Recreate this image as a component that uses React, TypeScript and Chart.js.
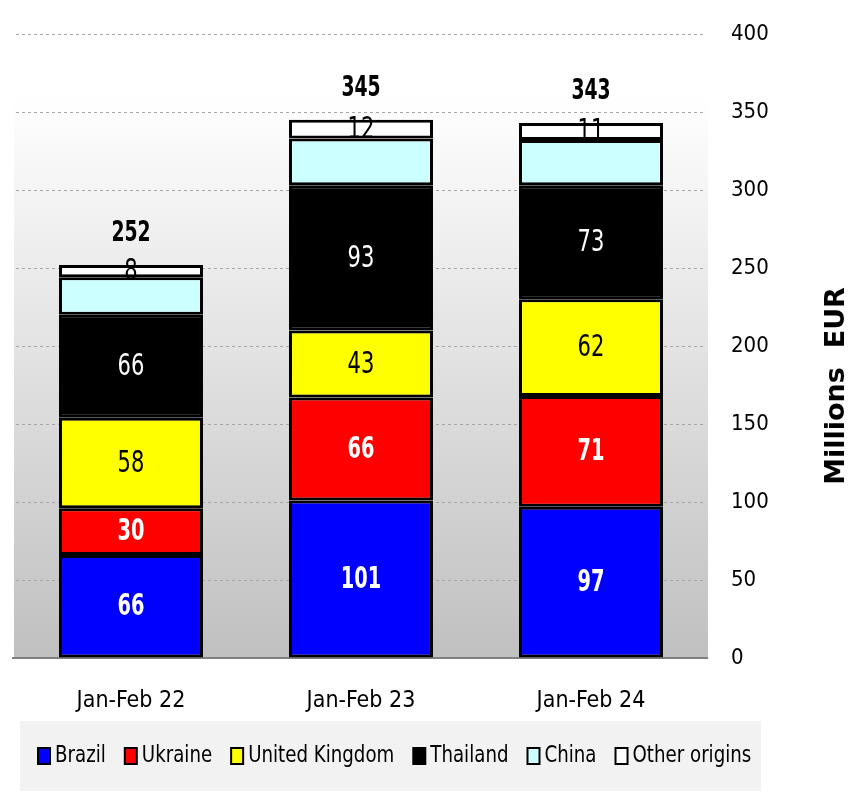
import React, { useEffect, useRef } from "react";
import { Chart, registerables } from "chart.js";

Chart.register(...registerables);

const categories = ["Jan-Feb 22", "Jan-Feb 23", "Jan-Feb 24"];
const brazil = [66, 101, 97];
const ukraine = [30, 66, 71];
const unitedKingdom = [58, 43, 62];
const thailand = [66, 93, 73];
const china = [24, 30, 29];
const otherOrigins = [8, 12, 11];
const yTicks = [0, 50, 100, 150, 200, 250, 300, 350, 400];

const FONT = '"DejaVu Sans Condensed", "DejaVu Sans", sans-serif';

type SeriesStyle = {
  label: string;
  data: number[];
  color: string;
  textColor: string;
  bold: boolean;
  showLabel: boolean;
};

const series: SeriesStyle[] = [
  { label: "Brazil", data: brazil, color: "#0000ff", textColor: "#ffffff", bold: true, showLabel: true },
  { label: "Ukraine", data: ukraine, color: "#ff0000", textColor: "#ffffff", bold: true, showLabel: true },
  { label: "United Kingdom", data: unitedKingdom, color: "#ffff00", textColor: "#000000", bold: false, showLabel: true },
  { label: "Thailand", data: thailand, color: "#000000", textColor: "#ffffff", bold: false, showLabel: true },
  { label: "China", data: china, color: "#ccffff", textColor: "#000000", bold: false, showLabel: false },
  { label: "Other origins", data: otherOrigins, color: "#ffffff", textColor: "#000000", bold: false, showLabel: true },
];

function condensedText(ctx: CanvasRenderingContext2D, text: string, x: number, y: number, sx: number) {
  ctx.save();
  ctx.translate(x, y);
  ctx.scale(sx, 1);
  ctx.fillText(text, 0, 0);
  ctx.restore();
}

const backgroundPlugin = {
  id: "bgPlugin",
  beforeDraw(chart: any) {
    const { ctx, chartArea } = chart;
    ctx.save();
    ctx.fillStyle = "#ffffff";
    ctx.fillRect(0, 0, chart.width, chart.height);
    const gTop = chartArea.top + 61;
    const grad = ctx.createLinearGradient(0, gTop, 0, chartArea.bottom);
    grad.addColorStop(0, "#ffffff");
    grad.addColorStop(1, "#c0c0c0");
    ctx.fillStyle = grad;
    ctx.fillRect(chartArea.left - 2, gTop, chartArea.right - chartArea.left + 4, chartArea.bottom - gTop);
    ctx.restore();
  },
  beforeDatasetsDraw(chart: any) {
    const { ctx, chartArea } = chart;
    ctx.save();
    ctx.strokeStyle = "#808080";
    ctx.lineWidth = 2;
    ctx.beginPath();
    ctx.moveTo(chartArea.left - 4, chartArea.bottom);
    ctx.lineTo(chartArea.right + 2, chartArea.bottom);
    ctx.stroke();
    ctx.restore();
  },
};

const labelsPlugin = {
  id: "labelsPlugin",
  afterDatasetsDraw(chart: any) {
    const { ctx } = chart;
    ctx.save();
    ctx.textAlign = "center";
    ctx.textBaseline = "middle";
    series.forEach((s, di) => {
      if (!s.showLabel) return;
      const meta = chart.getDatasetMeta(di);
      meta.data.forEach((el: any, i: number) => {
        const { x, y, base } = el.getProps(["x", "y", "base"], true);
        ctx.fillStyle = s.textColor;
        ctx.font = `${s.bold ? "bold " : ""}30px ${FONT}`;
        condensedText(ctx, String(s.data[i]), x, (y + base) / 2 + 1, s.bold ? 0.72 : 0.78);
      });
    });
    // totals
    const lastMeta = chart.getDatasetMeta(series.length - 1);
    ctx.fillStyle = "#000000";
    ctx.font = `bold 29px ${FONT}`;
    categories.forEach((_, i) => {
      const total = series.reduce((acc, s) => acc + s.data[i], 0);
      const el = lastMeta.data[i];
      const { x, y } = el.getProps(["x", "y"], true);
      condensedText(ctx, String(total), x, y - 31, 0.72);
    });

    // axis title
    ctx.save();
    ctx.translate(837, 386);
    ctx.rotate(-Math.PI / 2);
    ctx.font = 'bold 27px "DejaVu Sans", sans-serif';
    ctx.fillStyle = "#000000";
    ctx.fillText("Millions  EUR", 0, 0);
    ctx.restore();

    // legend
    const lx = 20, ly = 721, lw = 741, lh = 70;
    ctx.fillStyle = "#f2f2f2";
    ctx.fillRect(lx, ly, lw, lh);
    ctx.font = `23px ${FONT}`;
    ctx.textAlign = "left";
    ctx.textBaseline = "middle";
    const sx = 0.88;
    let cx = 37;
    const cy = 756;
    series.forEach((s) => {
      ctx.fillStyle = s.color;
      ctx.fillRect(cx + 1, cy - 8, 12, 16);
      ctx.strokeStyle = "#000000";
      ctx.lineWidth = 2;
      ctx.strokeRect(cx + 1, cy - 8, 12, 16);
      ctx.fillStyle = "#000000";
      condensedText(ctx, s.label, cx + 18, cy, sx);
      cx += 18 + ctx.measureText(s.label).width * sx + 18;
    });
    ctx.restore();
  },
};

export default function App() {
  const ref = useRef<HTMLCanvasElement | null>(null);
  useEffect(() => {
    if (!ref.current) return;
    const chart = new Chart(ref.current, {
      type: "bar",
      data: {
        labels: categories,
        datasets: series.map((s) => ({
          label: s.label,
          data: s.data,
          backgroundColor: s.color,
          borderColor: "#000000",
          borderWidth: 3,
          borderSkipped: false,
          categoryPercentage: 1,
          barPercentage: 0.626,
        })),
      },
      options: {
        animation: false,
        responsive: false,
        devicePixelRatio: 1,
        layout: { padding: { left: 16, top: 34, right: 0, bottom: 0 } },
        plugins: {
          legend: { display: false },
          tooltip: { enabled: false },
          title: { display: false },
        },
        scales: {
          x: {
            stacked: true,
            grid: { display: false, drawTicks: false },
            border: { display: false },
            ticks: {
              color: "#000000",
              font: { family: FONT, size: 23 },
              padding: 29,
            },
            afterFit(scale: any) {
              scale.height = 143;
              scale.paddingLeft = 0;
              scale.paddingRight = 0;
            },
          },
          y: {
            stacked: true,
            position: "right",
            min: 0,
            max: 400,
            afterBuildTicks(scale: any) {
              scale.ticks = yTicks.map((v) => ({ value: v }));
            },
            grid: {
              drawTicks: false,
              color: (c: any) => (c.tick && c.tick.value === 0 ? "rgba(0,0,0,0)" : "#a6a6a6"),
              lineWidth: 1,
            },
            border: { display: false, dash: [3, 3] },
            ticks: {
              color: "#000000",
              font: { family: FONT, size: 22 },
              padding: 25,
              align: "center",
              crossAlign: "near",
            },
            afterFit(scale: any) {
              scale.width = 144;
              scale.paddingTop = 0;
              scale.paddingBottom = 0;
            },
          },
        },
      },
      plugins: [backgroundPlugin, labelsPlugin],
    } as any);
    return () => chart.destroy();
  }, []);
  return (
    <div style={{ position: "fixed", left: 0, top: 0, width: 850, height: 801, background: "#fff" }}>
      <canvas ref={ref} width={850} height={801} style={{ width: 850, height: 801, display: "block" }} />
    </div>
  );
}
